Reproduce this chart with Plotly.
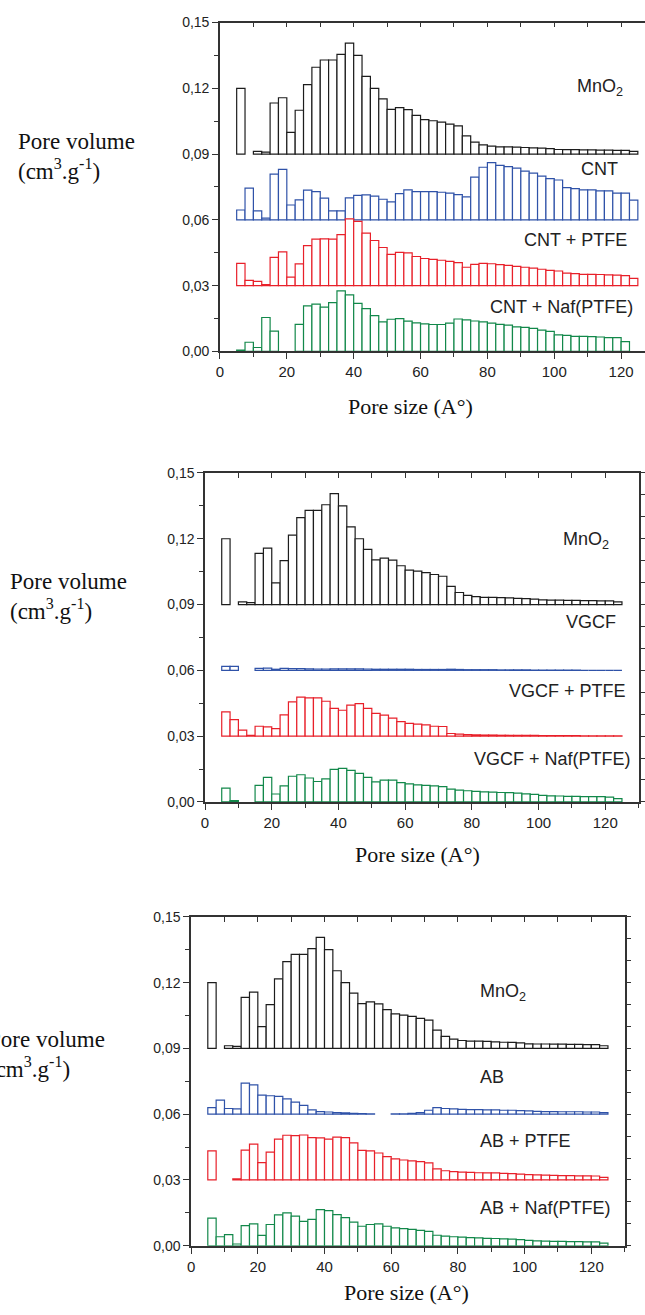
import plotly.graph_objects as go

# bin centres (pore size, Å), bins of 2.5 Å from 5 to 125
bin_centers = [6.25, 8.75, 11.25, 13.75, 16.25, 18.75, 21.25, 23.75, 26.25, 28.75,
               31.25, 33.75, 36.25, 38.75, 41.25, 43.75, 46.25, 48.75, 51.25, 53.75,
               56.25, 58.75, 61.25, 63.75, 66.25, 68.75, 71.25, 73.75, 76.25, 78.75,
               81.25, 83.75, 86.25, 88.75, 91.25, 93.75, 96.25, 98.75, 101.25, 103.75,
               106.25, 108.75, 111.25, 113.75, 116.25, 118.75, 121.25, 123.75]
bin_width = 2.5

# values as plotted (with vertical offsets)
mno2 = [0.1200, None, 0.0912, 0.0909, 0.1133, 0.1157, 0.0999, 0.1100, 0.1217, 0.1296,
        0.1329, 0.1329, 0.1355, 0.1406, 0.1350, 0.1254, 0.1200, 0.1152, 0.1104, 0.1112,
        0.1103, 0.1077, 0.1057, 0.1052, 0.1046, 0.1037, 0.1029, 0.0983, 0.0955, 0.0942,
        0.0936, 0.0933, 0.0933, 0.0932, 0.0930, 0.0928, 0.0927, 0.0925, 0.0921, 0.0920,
        0.0920, 0.0919, 0.0919, 0.0918, 0.0918, 0.0917, 0.0917, 0.0912]

cnt = [0.0645, 0.0745, 0.0641, 0.0608, 0.0809, 0.0830, 0.0668, 0.0691, 0.0736, 0.0729,
       0.0699, 0.0641, 0.0641, 0.0700, 0.0712, 0.0714, 0.0708, 0.0694, 0.0682, 0.0720,
       0.0737, 0.0729, 0.0729, 0.0729, 0.0726, 0.0722, 0.0715, 0.0705, 0.0795, 0.0840,
       0.0861, 0.0849, 0.0843, 0.0836, 0.0822, 0.0813, 0.0800, 0.0788, 0.0782, 0.0747,
       0.0743, 0.0737, 0.0737, 0.0732, 0.0732, 0.0722, 0.0722, 0.0690]
cnt_ptfe = [0.0402, 0.0324, 0.0320, 0.0305, 0.0429, 0.0454, 0.0339, 0.0399, 0.0483, 0.0512,
            0.0513, 0.0512, 0.0533, 0.0605, 0.0593, 0.0540, 0.0506, 0.0474, 0.0443, 0.0452,
            0.0450, 0.0433, 0.0424, 0.0420, 0.0416, 0.0411, 0.0405, 0.0384, 0.0397, 0.0402,
            0.0400, 0.0396, 0.0393, 0.0388, 0.0384, 0.0380, 0.0375, 0.0370, 0.0367, 0.0357,
            0.0355, 0.0352, 0.0352, 0.0351, 0.0349, 0.0348, 0.0346, 0.0333]
cnt_naf = [0.0006, 0.0042, 0.0018, 0.0155, 0.0093, None, None, 0.0124, 0.0208, 0.0216,
           0.0202, 0.0223, 0.0276, 0.0258, 0.0219, 0.0195, 0.0163, 0.0135, 0.0147, 0.0150,
           0.0138, 0.0130, 0.0126, 0.0123, 0.0123, 0.0129, 0.0148, 0.0144, 0.0139, 0.0135,
           0.0129, 0.0124, 0.0120, 0.0112, 0.0110, 0.0105, 0.0097, 0.0092, 0.0076, 0.0073,
           0.0069, 0.0069, 0.0068, 0.0066, 0.0063, 0.0063, 0.0045, None]

vgcf = [0.0618, 0.0618, None, None, 0.0609, 0.0610, 0.0605, 0.0609, 0.0608, 0.0608,
        0.0607, 0.0606, 0.0606, 0.0607, 0.0607, 0.0607, 0.0607, 0.0606, 0.0605, 0.0605,
        0.0605, 0.0605, 0.0605, 0.0604, 0.0604, 0.0604, 0.0604, 0.0605, 0.0604, 0.0603,
        0.0603, 0.0603, 0.0603, 0.0602, 0.0602, 0.0602, 0.0602, 0.0601, 0.0601, 0.0601,
        0.0601, 0.0601, 0.0601, 0.0600, 0.0600, 0.0600, 0.0600, 0.0600]
vgcf_ptfe = [0.0411, 0.0375, 0.0327, 0.0303, 0.0345, 0.0342, 0.0334, 0.0397, 0.0456, 0.0478,
             0.0474, 0.0474, 0.0459, 0.0427, 0.0418, 0.0441, 0.0448, 0.0427, 0.0404, 0.0396,
             0.0382, 0.0366, 0.0358, 0.0355, 0.0351, 0.0345, 0.0344, 0.0312, 0.0309, 0.0307,
             0.0306, 0.0305, 0.0305, 0.0304, 0.0304, 0.0304, 0.0303, 0.0303, 0.0302, 0.0302,
             0.0302, 0.0302, 0.0302, 0.0301, 0.0301, 0.0301, 0.0301, 0.0301]
vgcf_naf = [0.0063, 0.0006, None, None, 0.0075, 0.0112, 0.0036, 0.0073, 0.0117, 0.0124,
            0.0109, 0.0093, 0.0105, 0.0148, 0.0153, 0.0144, 0.0130, 0.0112, 0.0091, 0.0099,
            0.0099, 0.0088, 0.0082, 0.0078, 0.0075, 0.0073, 0.0070, 0.0058, 0.0054, 0.0051,
            0.0048, 0.0046, 0.0045, 0.0043, 0.0042, 0.0040, 0.0037, 0.0034, 0.0030, 0.0028,
            0.0027, 0.0025, 0.0025, 0.0024, 0.0024, 0.0024, 0.0022, 0.0015]

ab = [0.0630, 0.0664, 0.0626, 0.0624, 0.0742, 0.0734, 0.0687, 0.0684, 0.0681, 0.0670,
      0.0655, 0.0640, 0.0620, 0.0612, 0.0610, 0.0607, 0.0606, 0.0604, 0.0603, 0.0601,
      None, None, 0.0601, 0.0601, 0.0604, 0.0607, 0.0618, 0.0630, 0.0626, 0.0624,
      0.0622, 0.0621, 0.0621, 0.0620, 0.0620, 0.0618, 0.0618, 0.0616, 0.0615, 0.0613,
      0.0612, 0.0612, 0.0611, 0.0611, 0.0611, 0.0610, 0.0610, 0.0607]
ab_ptfe = [0.0433, None, None, 0.0305, 0.0436, 0.0463, 0.0379, 0.0427, 0.0486, 0.0504,
           0.0502, 0.0505, 0.0493, 0.0492, 0.0486, 0.0495, 0.0493, 0.0469, 0.0435, 0.0433,
           0.0423, 0.0406, 0.0396, 0.0391, 0.0387, 0.0384, 0.0378, 0.0351, 0.0342, 0.0338,
           0.0336, 0.0335, 0.0333, 0.0332, 0.0332, 0.0330, 0.0329, 0.0327, 0.0324, 0.0323,
           0.0322, 0.0321, 0.0320, 0.0320, 0.0319, 0.0319, 0.0318, 0.0312]
ab_naf = [0.0126, 0.0041, 0.0051, 0.0008, 0.0092, 0.0100, 0.0047, 0.0097, 0.0141, 0.0150,
          0.0135, 0.0111, 0.0120, 0.0165, 0.0160, 0.0142, 0.0128, 0.0108, 0.0089, 0.0097,
          0.0100, 0.0089, 0.0082, 0.0078, 0.0075, 0.0070, 0.0066, 0.0048, 0.0044, 0.0041,
          0.0039, 0.0037, 0.0036, 0.0034, 0.0033, 0.0031, 0.0030, 0.0028, 0.0025, 0.0022,
          0.0021, 0.0020, 0.0020, 0.0019, 0.0019, 0.0018, 0.0018, 0.0012]

offsets = [0.09, 0.06, 0.03, 0.0]
colors = ["#1c1c1c", "#2f52a8", "#e8202a", "#12884a"]

panels = [
    {"series": [mno2, cnt, cnt_ptfe, cnt_naf],
     "labels": ["MnO<sub>2</sub>", "CNT", "CNT + PTFE", "CNT + Naf(PTFE)"]},
    {"series": [mno2, vgcf, vgcf_ptfe, vgcf_naf],
     "labels": ["MnO<sub>2</sub>", "VGCF", "VGCF + PTFE", "VGCF + Naf(PTFE)"]},
    {"series": [mno2, ab, ab_ptfe, ab_naf],
     "labels": ["MnO<sub>2</sub>", "AB", "AB + PTFE", "AB + Naf(PTFE)"]},
]

W, H = 645, 1315
def px(x):
    return x / W
def py(y):
    return 1 - y / H

# panel geometry in pixels: x of data 0, x right edge, y top (0.15), y bottom (0)
geom = [
    {"x0": 217.3, "x1": 645.0, "xmax": (645.0 - 217.3) / 3.364, "yt": 14.7, "yb": 347.7, "right": False},
    {"x0": 202.3, "x1": 638.6, "xmax": 130, "yt": 470.7, "yb": 803.7, "right": True},
    {"x0": 188.3, "x1": 624.5, "xmax": 130, "yt": 920.0, "yb": 1253.0, "right": True},
]

label_pos = [
    [(600, 80, "center"), (599, 163, "center"), (575.5, 235, "center"), (561, 303, "center")],
    [(585.5, 539, "center"), (591, 621.7, "center"), (566.7, 691.7, "center"), (551.7, 760, "center")],
    [(477, 997, "left"), (477, 1082, "left"), (477, 1147, "left"), (477, 1215, "left")],
]
ytitle_pos = [(12, 150), (4, 596), (-18, 1059)]
xtitle_pos = [(409, 403), (416, 857), (405, 1300)]

fig = go.Figure()
AX = "#333333"
tickfont = dict(family="Liberation Sans, Arial, sans-serif", size=14, color="#222222")
layout = dict(
    width=W, height=H, margin=dict(l=0, r=0, t=0, b=0),
    paper_bgcolor="white", plot_bgcolor="white",
    barmode="overlay", showlegend=False, separators=",.",
)
annotations = []

for p, (panel, g) in enumerate(zip(panels, geom)):
    n = p + 1
    xa = "x" if n == 1 else f"x{n}"
    ya = "y" if n == 1 else f"y{n}"
    for s, vals in enumerate(panel["series"]):
        off = offsets[s]
        heights = [None if v is None else v - off for v in vals]
        fig.add_trace(go.Bar(
            x=bin_centers, y=heights, base=off, width=bin_width,
            marker=dict(color="white", line=dict(color=colors[s], width=1.2)),
            xaxis=xa, yaxis=ya, hoverinfo="skip"))
    xdom = [px(g["x0"]), px(g["x1"])]
    ydom = [py(g["yb"]), py(g["yt"])]
    key = "" if n == 1 else str(n)
    layout[f"xaxis{key}"] = dict(
        domain=xdom, range=[0, g["xmax"]], anchor=ya,
        showline=True, linecolor=AX, linewidth=1.5, showgrid=False, zeroline=False,
        ticks="outside", ticklen=6, tickwidth=1.2, tickcolor=AX,
        tick0=0, dtick=20, tickfont=dict(tickfont, size=15),
        minor=dict(ticks="outside", ticklen=4, tickwidth=1.2, tickcolor=AX, dtick=10, showgrid=False),
    )
    layout[f"yaxis{key}"] = dict(
        domain=ydom, range=[0, 0.15], anchor=xa,
        showline=True, linecolor=AX, linewidth=1.5, showgrid=False, zeroline=False,
        ticks="outside", ticklen=6, tickwidth=1.2, tickcolor=AX,
        tick0=0, dtick=0.03, tickformat=".2f", tickfont=tickfont,
        minor=dict(ticks="outside", ticklen=4, tickwidth=1.2, tickcolor=AX, dtick=0.015, showgrid=False),
    )
    # top axis (frame with inward ticks)
    tn = n + 3
    layout[f"xaxis{tn}"] = dict(
        overlaying=xa, anchor=ya, side="top", range=[0, g["xmax"]],
        showline=True, linecolor=AX, linewidth=1.5, showgrid=False, zeroline=False,
        ticks="inside", ticklen=5, tickwidth=1.2, tickcolor=AX,
        tick0=0, dtick=10, showticklabels=False,
    )
    fig.add_trace(go.Scatter(x=[None], y=[None], xaxis=f"x{tn}", yaxis=ya,
                             showlegend=False, hoverinfo="skip"))
    if g["right"]:
        layout[f"yaxis{tn}"] = dict(
            overlaying=ya, anchor=xa, side="right", range=[0, 0.15],
            showline=True, linecolor=AX, linewidth=1.5, showgrid=False, zeroline=False,
            ticks="outside", ticklen=5, tickwidth=1.2, tickcolor=AX,
            tick0=0, dtick=0.01, showticklabels=False,
        )
        fig.add_trace(go.Scatter(x=[None], y=[None], xaxis=xa, yaxis=f"y{tn}",
                                 showlegend=False, hoverinfo="skip"))

    for (lx, ly, anc), txt in zip(label_pos[p], panel["labels"]):
        annotations.append(dict(
            x=px(lx), y=py(ly), xref="paper", yref="paper", text=txt, showarrow=False,
            xanchor=anc, yanchor="middle",
            font=dict(family="Liberation Sans, Arial, sans-serif", size=18, color="#222222")))
    tx, ty = ytitle_pos[p]
    annotations.append(dict(
        x=px(tx), y=py(ty), xref="paper", yref="paper",
        text="Pore volume<br>(cm<sup>3</sup>.g<sup>-1</sup>)", showarrow=False,
        xanchor="left", yanchor="middle", align="left",
        font=dict(family="Liberation Serif, Times New Roman, serif", size=23, color="#111111")))
    xx, xy = xtitle_pos[p]
    annotations.append(dict(
        x=px(xx), y=py(xy), xref="paper", yref="paper",
        text="Pore size (A°)", showarrow=False, xanchor="center", yanchor="middle",
        font=dict(family="Liberation Serif, Times New Roman, serif", size=22, color="#111111")))

layout["annotations"] = annotations
fig.update_layout(**layout)
fig.write_html("out.html")
